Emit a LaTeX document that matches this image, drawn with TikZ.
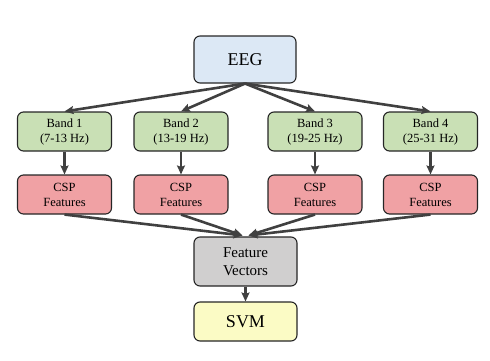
\documentclass[tikz,border=0pt]{standalone}
\usepackage{fontspec}
\setmainfont{Liberation Serif}
\usetikzlibrary{arrows.meta,calc}
\definecolor{eegc}{RGB}{220,232,245}
\definecolor{bandc}{RGB}{201,224,181}
\definecolor{cspc}{RGB}{240,161,164}
\definecolor{fvc}{RGB}{208,207,207}
\definecolor{svmc}{RGB}{251,251,197}
\definecolor{linec}{RGB}{64,64,64}
\begin{document}
\begin{tikzpicture}[x=1pt,y=1pt,
  box/.style={draw=black!85,line width=1.1pt,rounded corners=6pt,align=center,inner sep=0pt},
  bandbox/.style={box,fill=bandc,minimum width=94pt,minimum height=39pt,font=\fontsize{12.5}{15}\selectfont},
  cspbox/.style={box,fill=cspc,minimum width=94pt,minimum height=39pt,font=\fontsize{12.5}{15}\selectfont},
  conn/.style={draw=linec,line width=2.6pt,-{Stealth[length=9pt,width=8pt,inset=1.5pt]}}
]
\useasboundingbox (0,0) rectangle (490,360);
\node[box,fill=eegc,minimum width=102pt,minimum height=47pt,font=\fontsize{18}{20}\selectfont] (eeg) at (245,300.5) {EEG};
\node[bandbox] (b1) at (64.5,228.5) {Band 1\\(7-13 Hz)};
\node[bandbox] (b2) at (181,228.5) {Band 2\\(13-19 Hz)};
\node[bandbox] (b3) at (315,228.5) {Band 3\\(19-25 Hz)};
\node[bandbox] (b4) at (430.5,228.5) {Band 4\\(25-31 Hz)};
\node[cspbox] (c1) at (64.5,165.5) {CSP\\Features};
\node[cspbox] (c2) at (181,165.5) {CSP\\Features};
\node[cspbox] (c3) at (315,165.5) {CSP\\Features};
\node[cspbox] (c4) at (430.5,165.5) {CSP\\Features};
\node[box,fill=fvc,minimum width=103pt,minimum height=49pt,font=\fontsize{15}{18.5}\selectfont] (fv) at (245.5,98.5) {Feature\\Vectors};
\node[box,fill=svmc,minimum width=103pt,minimum height=39pt,font=\fontsize{18}{20}\selectfont] (svm) at (245.5,38.5) {SVM};
\coordinate (fvl) at ($(fv.north)+(-3,1)$);
\coordinate (fvr) at ($(fv.north)+(3,1)$);
\foreach \b in {b1,b2,b3,b4} \draw[conn] (eeg.south) -- (\b.north);
\foreach \i in {1,2,3,4} \draw[conn] (b\i.south) -- (c\i.north);
\draw[conn] (c1.south) -- (fvl);
\draw[conn] (c2.south) -- (fvl);
\draw[conn] (c3.south) -- (fvr);
\draw[conn] (c4.south) -- (fvr);
\draw[conn] (fv.south) -- (svm.north);
\end{tikzpicture}
\end{document}
